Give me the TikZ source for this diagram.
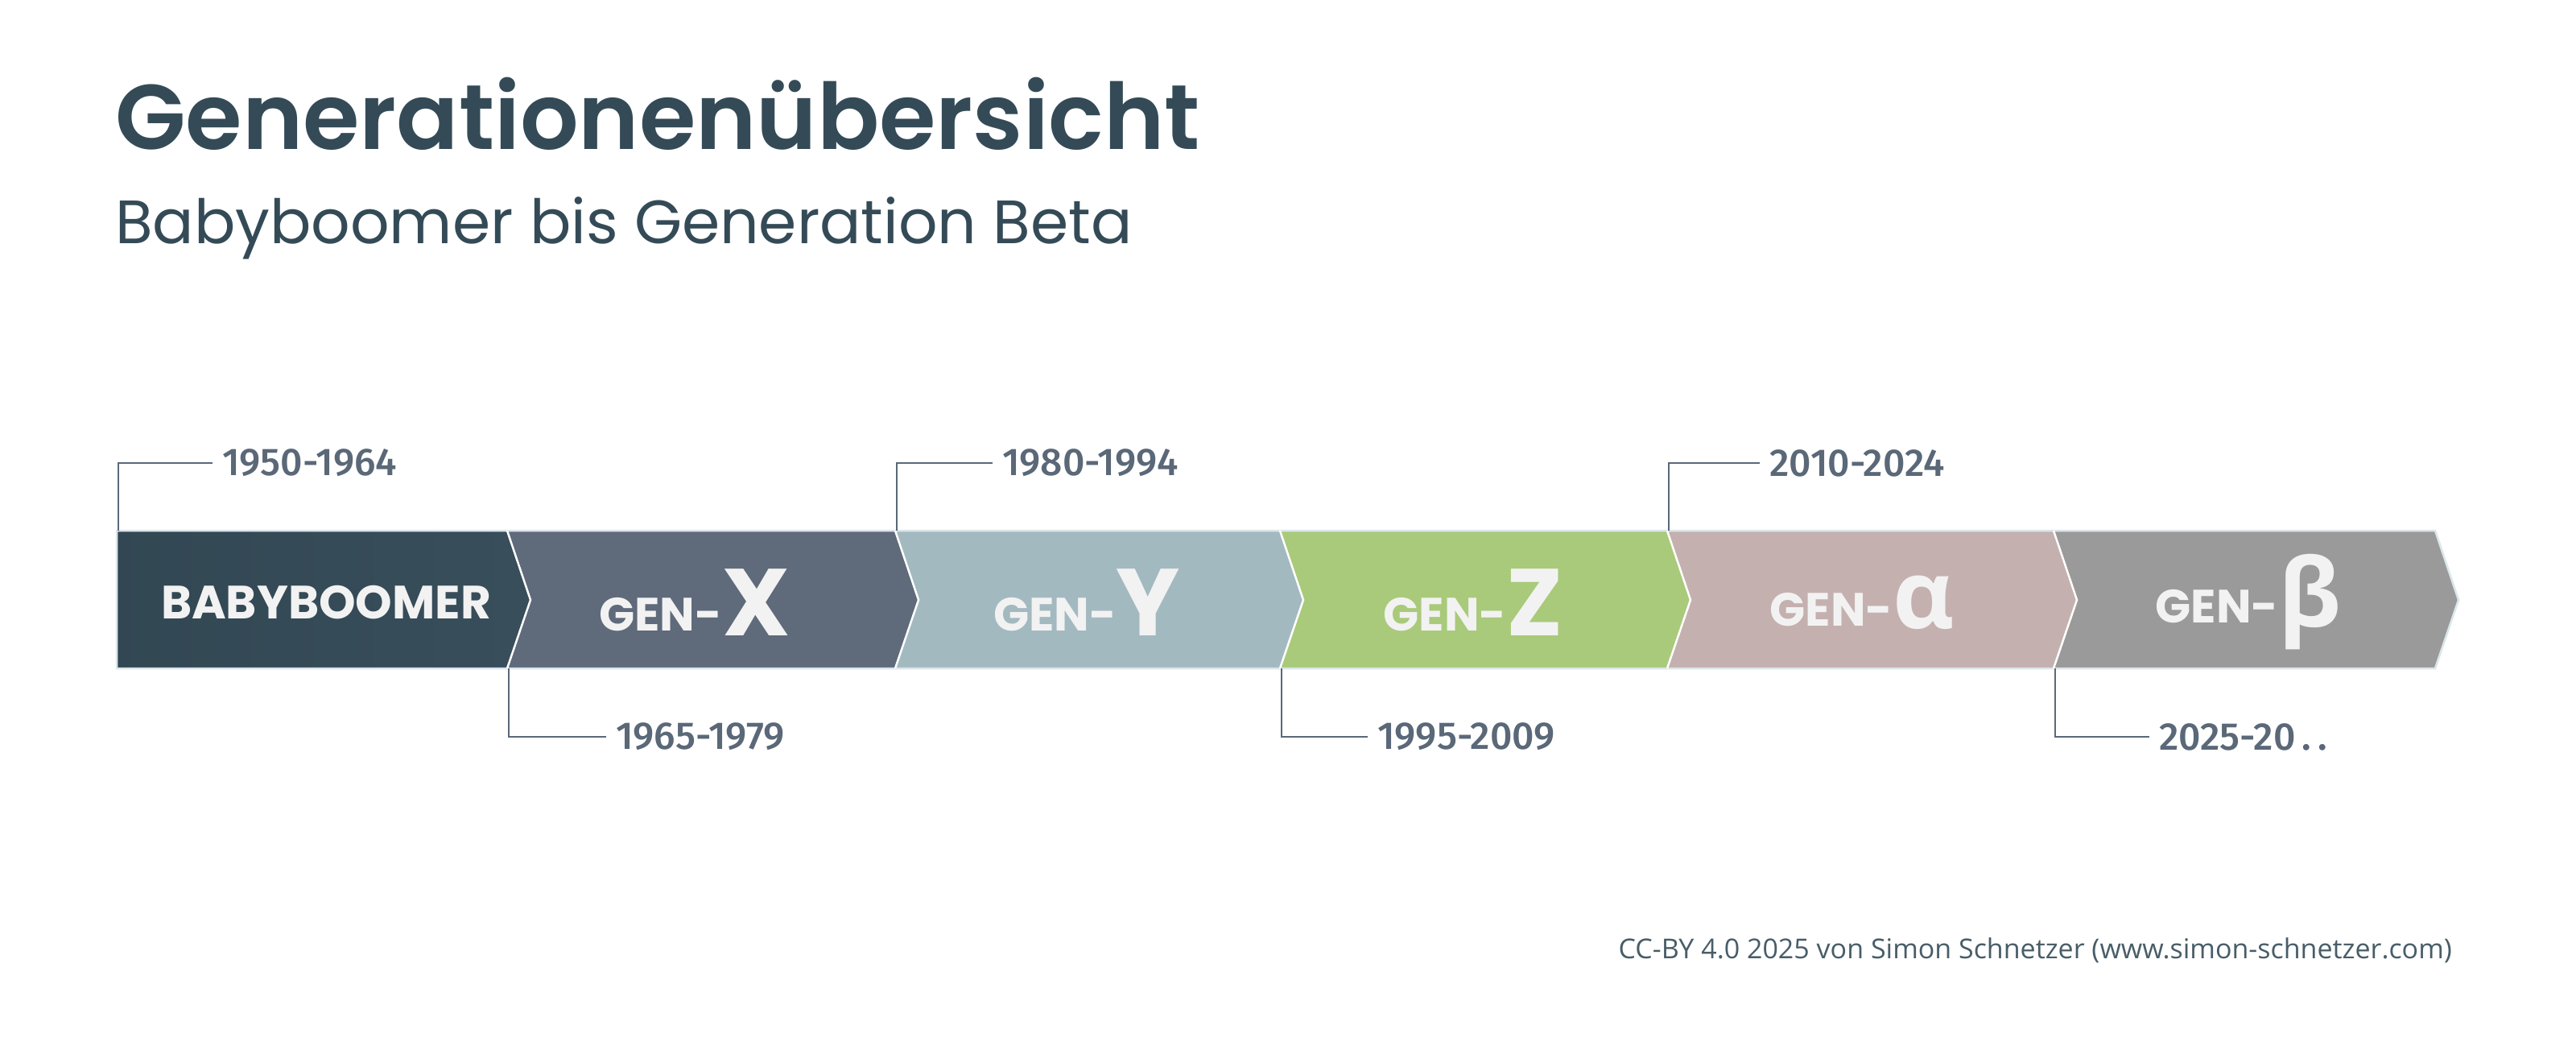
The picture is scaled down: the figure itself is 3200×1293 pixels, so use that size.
\documentclass[tikz,border=0pt]{standalone}
\usepackage{fontspec}
\setmainfont{Poppins}
\newfontfamily\semib{Poppins SemiBold}
\newfontfamily\lab{Fira Sans}[UprightFont=* Medium]
\newfontfamily\foot{Open Sans}
\newfontfamily\gk{Open Sans}
\definecolor{ink}{HTML}{344B57}
\definecolor{lbl}{HTML}{5A6878}
\definecolor{cA}{HTML}{344B57}
\definecolor{cB}{HTML}{5F6A7B}
\definecolor{cC}{HTML}{A3B9C0}
\definecolor{cD}{HTML}{A9CA7A}
\definecolor{cE}{HTML}{C5B0B0}
\definecolor{cF}{HTML}{9A9A9A}
\definecolor{edge}{HTML}{DCE6EA}
\definecolor{wt}{HTML}{F2F2F2}
\begin{document}
\begin{tikzpicture}[x=1pt,y=-1pt,
  seg/.style={draw=edge,line width=2.5pt,line join=miter},
  gen/.style={text=wt,font=\fontsize{58}{60}\selectfont\bfseries,anchor=center},
  yr/.style={text=lbl,font=\lab\fontsize{48}{50}\selectfont,anchor=west,inner sep=0pt},
  conn/.style={draw=lbl,line width=2pt}]
\useasboundingbox (0,0) rectangle (3200,1293);
\fill[white] (0,0) rectangle (3200,1293);
\node[anchor=base west,inner sep=0pt,text=ink,font=\semib\fontsize{114}{116}\selectfont] (title) at (143,185) {Generationenübersicht};
\node[anchor=base west,inner sep=0pt,text=ink,font=\fontsize{76}{78}\selectfont] (sub) at (143,302) {Babyboomer bis Generation Beta};
% segments
\def\T{659}\def\B{830}\def\M{745}\def\d{29}
\fill[left color=cA!95!black,right color=cA!90!cB] (145,\T) -- (630,\T) -- (659,\M) -- (630,\B) -- (145,\B) -- cycle;
\fill[cB] (630,\T) -- (1112,\T) -- (1141,\M) -- (1112,\B) -- (630,\B) -- (659,\M) -- cycle;
\fill[cC] (1112,\T) -- (1590,\T) -- (1619,\M) -- (1590,\B) -- (1112,\B) -- (1141,\M) -- cycle;
\fill[cD] (1590,\T) -- (2071,\T) -- (2100,\M) -- (2071,\B) -- (1590,\B) -- (1619,\M) -- cycle;
\fill[cE] (2071,\T) -- (2551,\T) -- (2580,\M) -- (2551,\B) -- (2071,\B) -- (2100,\M) -- cycle;
\fill[cF] (2551,\T) -- (3025,\T) -- (3054,\M) -- (3025,\B) -- (2551,\B) -- (2580,\M) -- cycle;
\draw[seg] (145,\T) -- (3025,\T) -- (3054,\M) -- (3025,\B) -- (145,\B) -- cycle;
\foreach \b in {630,1112,1590,2071,2551}{\draw[white,line width=2.5pt] (\b,\T) -- (\b+\d,\M) -- (\b,\B);}
\node[gen] (n1) at (405,748) {BABYBOOMER};
\node[gen] (n2) at (863,748) {GEN-\raisebox{-0.1em}{\fontsize{118}{120}\selectfont X}};
\node[gen] (n3) at (1350,748) {GEN-\raisebox{-0.1em}{\fontsize{118}{120}\selectfont Y}};
\node[gen] (n4) at (1830,748) {GEN-\raisebox{-0.1em}{\fontsize{118}{120}\selectfont Z}};
\node[gen] (n5) at (2313,748) {GEN-\raisebox{-0.05em}{\gk\fontsize{118}{120}\selectfont α}};
\node[gen] (n6) at (2793,748) {GEN-\raisebox{-0.1em}{\gk\fontsize{118}{120}\selectfont β}};
% year labels
\node[yr] (y1) at (276,575) {1950-1964};
\node[yr] (y2) at (765,915) {1965-1979};
\node[yr] (y3) at (1245,575) {1980-1994};
\node[yr] (y4) at (1711,915) {1995-2009};
\node[yr] (y5) at (2198,575) {2010-2024};
\node[yr] (y6) at (2682,915) {2025-20\,.\,.};
\coordinate (p1) at (147,\T); \coordinate (p2) at (632,\B);
\coordinate (p3) at (1114,\T); \coordinate (p4) at (1592,\B);
\coordinate (p5) at (2073,\T); \coordinate (p6) at (2553,\B);
\foreach \i in {1,...,6}{\draw[conn] (p\i) |- ([xshift=-12pt]y\i.west);}
\node[anchor=base east,inner sep=0pt,text=ink!90,font=\foot\fontsize{34}{36}\selectfont] (cc) at (3046,1190) {CC-BY 4.0 2025 von Simon Schnetzer (www.simon-schnetzer.com)};
\end{tikzpicture}
\end{document}
